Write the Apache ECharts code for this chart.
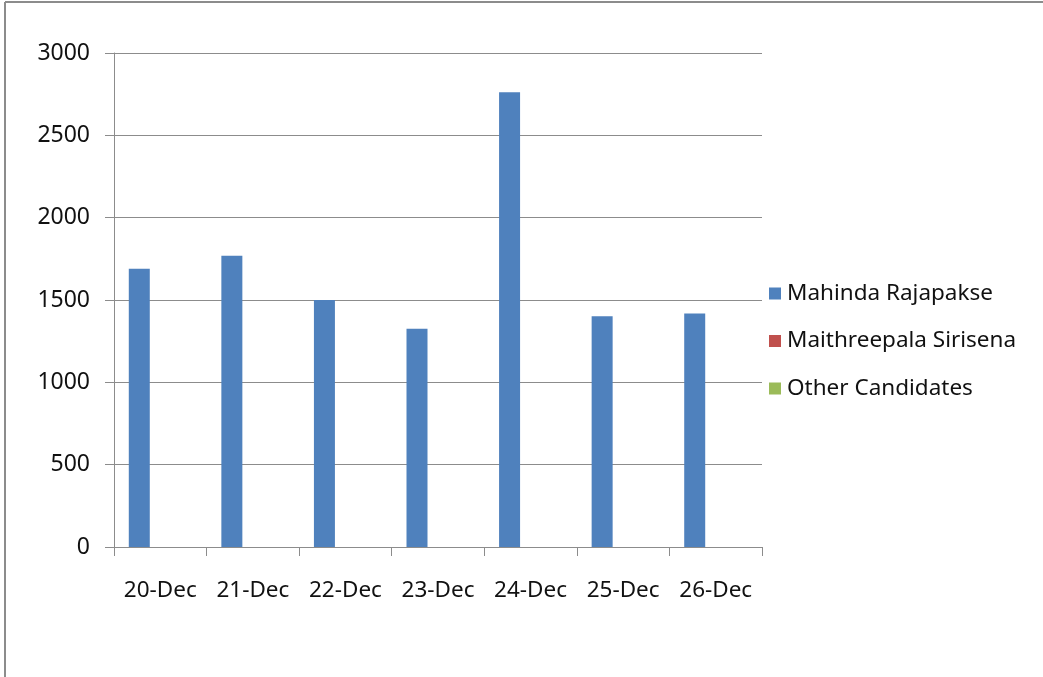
<!DOCTYPE html>
<html lang="en" style="height: 100%">

<head>
  <meta charset="utf-8" />
</head>

<body style="height: 100%; margin: 0; background: #fff">
  <div id="container" style="width: 1043px; height: 677px;"></div>

  <script type="text/javascript" src="https://cdn.jsdelivr.net/npm/echarts@6/dist/echarts.min.js"></script>

  <script type="text/javascript">
    // data
    var days = ['20-Dec', '21-Dec', '22-Dec', '23-Dec', '24-Dec', '25-Dec', '26-Dec'];
    var seriesNames = ['Mahinda Rajapakse', 'Maithreepala Sirisena', 'Other Candidates'];
    var rajapakse = [1690, 1768, 1500, 1325, 2762, 1402, 1418];
    var sirisena = [0, 0, 0, 0, 0, 0, 0];
    var others = [0, 0, 0, 0, 0, 0, 0];
    var colors = ['#4F81BD', '#C0504D', '#9BBB59'];

    var dom = document.getElementById("container");
    var myChart = echarts.init(dom, null, { renderer: "canvas" });

    var font = "'Noto Sans', 'Open Sans', sans-serif";
    var gray = '#8c8c8c';
    var ink = '#111';

    function bar(name, values, i) {
      return {
        name: name,
        type: 'bar',
        data: values,
        barWidth: 21,
        barGap: '0%',
        itemStyle: { color: colors[i] },
        emphasis: { disabled: true }
      };
    }

    var option = {
      animation: false,
      color: colors,
      // outer frame of the chart area
      graphic: [
        { type: 'line', shape: { x1: 5, y1: 2, x2: 1043, y2: 2 }, style: { stroke: gray, lineWidth: 2 } },
        { type: 'line', shape: { x1: 5, y1: 2, x2: 5, y2: 677 }, style: { stroke: gray, lineWidth: 2 } }
      ],
      grid: { left: 114, right: 281, top: 53, bottom: 130 },
      legend: {
        orient: 'vertical',
        left: 764,
        top: 277,
        itemWidth: 12,
        itemHeight: 12,
        itemGap: 24.5,
        icon: 'rect',
        data: seriesNames,
        textStyle: { fontFamily: font, fontSize: 22.5, color: ink, padding: [0, 0, 0, 1] }
      },
      xAxis: {
        type: 'category',
        data: days,
        axisLine: { lineStyle: { color: gray, width: 1 } },
        axisTick: { show: true, length: 9, interval: 0, lineStyle: { color: gray } },
        axisLabel: { margin: 32, interval: 0, fontFamily: font, fontSize: 22.5, color: ink }
      },
      yAxis: {
        type: 'value',
        min: 0,
        max: 3000,
        interval: 500,
        axisLine: { show: true, lineStyle: { color: gray, width: 1 } },
        axisTick: { show: true, length: 9, lineStyle: { color: gray } },
        splitLine: { lineStyle: { color: gray, width: 1 } },
        axisLabel: {
          margin: 24, fontFamily: font, fontSize: 23, color: ink,
          formatter: function (v) { return String(v); }
        }
      },
      series: [
        bar(seriesNames[0], rajapakse, 0),
        bar(seriesNames[1], sirisena, 1),
        bar(seriesNames[2], others, 2)
      ]
    };

    myChart.setOption(option);
    window.addEventListener("resize", myChart.resize);
  </script>
</body>

</html>
